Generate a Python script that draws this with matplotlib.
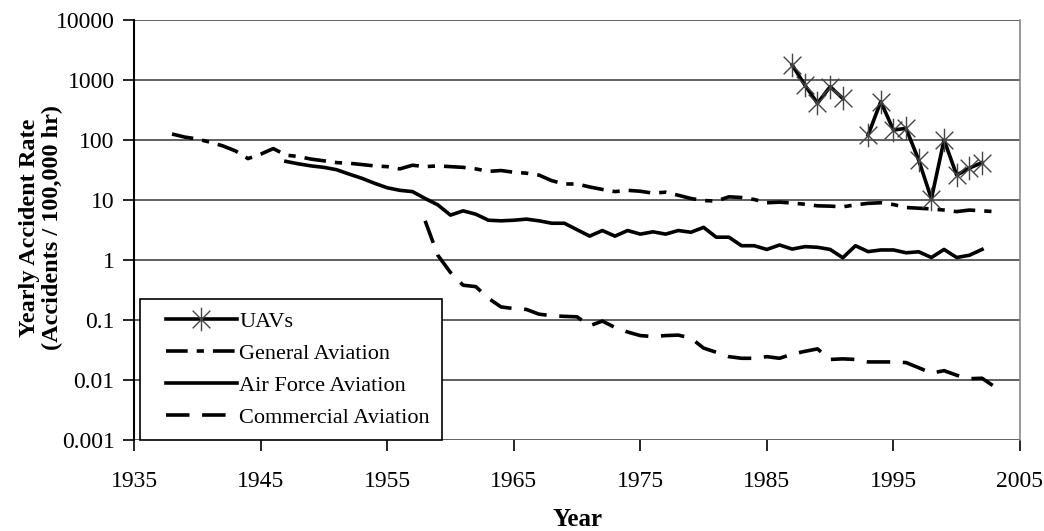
import numpy as np
import matplotlib
matplotlib.use('Agg')
import matplotlib.pyplot as plt
from matplotlib.path import Path
from matplotlib.lines import Line2D
from matplotlib.legend_handler import HandlerLine2D

plt.rcParams['font.family'] = ['Liberation Serif', 'DejaVu Serif']

# UAVs (no value for 1992)
uav_years = [1987, 1988, 1989, 1990, 1991, 1992, 1993, 1994, 1995, 1996,
             1997, 1998, 1999, 2000, 2001, 2002]
uav_rate = [1780, 825, 410, 776, 493, np.nan, 121, 436, 147, 156,
            46, 10.5, 100, 26, 34, 42]

# General Aviation 1938-2003
ga_years = list(range(1938, 2004))
ga_rate = [126, 112, 104, 92, 80, 66, 49, 58, 72, 56,
           53, 48, 45, 42, 41, 39, 37, 36, 33, 38,
           36, 37, 36, 35, 33, 30, 31, 29, 28, 26,
           21, 18.5, 18.5, 16.5, 15, 13.8, 14.5, 14, 13, 13.5,
           12, 10.6, 9.8, 9.6, 11.3, 11, 10.2, 9, 9.2, 8.9,
           8.5, 8, 7.9, 7.7, 8.3, 8.8, 9, 8.4, 7.5, 7.3,
           7.1, 6.8, 6.4, 6.8, 6.6, 6.4]

# Air Force Aviation 1947-2002
af_years = list(range(1947, 2003))
af_rate = [44, 40, 37, 35, 32, 27, 23, 19, 16, 14.5,
           13.8, 10.6, 8.3, 5.6, 6.6, 5.8, 4.6, 4.5, 4.6, 4.8,
           4.5, 4.1, 4.1, 3.2, 2.5, 3.1, 2.5, 3.1, 2.7, 2.95,
           2.7, 3.1, 2.9, 3.5, 2.4, 2.4, 1.73, 1.73, 1.5, 1.78,
           1.52, 1.67, 1.63, 1.5, 1.09, 1.73, 1.38, 1.47, 1.47, 1.32,
           1.37, 1.1, 1.5, 1.1, 1.2, 1.5]

# Commercial Aviation 1958-2003
ca_years = list(range(1958, 2004))
ca_rate = [4.5, 1.2, 0.62, 0.38, 0.36, 0.23, 0.165, 0.155, 0.15, 0.125,
           0.118, 0.115, 0.113, 0.08, 0.096, 0.075, 0.063, 0.055, 0.053, 0.055,
           0.056, 0.05, 0.034, 0.029, 0.0245, 0.023, 0.023, 0.0245, 0.023, 0.027,
           0.03, 0.033, 0.022, 0.0225, 0.022, 0.02, 0.02, 0.02, 0.0195, 0.016,
           0.013, 0.0143, 0.012, 0.0105, 0.0107, 0.0077]

x_ticks = [1935, 1945, 1955, 1965, 1975, 1985, 1995, 2005]
y_ticks = [0.001, 0.01, 0.1, 1, 10, 100, 1000, 10000]
y_labels = ['0.001', '0.01', '0.1', '1', '10', '100', '1000', '10000']

# Excel style asterisk: vertical bar plus an X
star = Path([(0, -1), (0, 1), (-0.75, -0.75), (0.75, 0.75), (-0.75, 0.75), (0.75, -0.75)],
            [Path.MOVETO, Path.LINETO, Path.MOVETO, Path.LINETO, Path.MOVETO, Path.LINETO])

fig = plt.figure(figsize=(10.44, 5.31), dpi=100)
ax = fig.add_axes([0.1284, 0.1714, 0.8486, 0.7909])

lw = 2.6
ax.plot(uav_years, uav_rate, color='black', lw=lw, marker=star, markersize=17,
        markeredgecolor='#444444', markeredgewidth=1.0, label='UAVs', zorder=5)
ax.plot(ga_years, ga_rate, color='black', lw=lw, dashes=(6, 2.5, 2, 2.5),
        label='General Aviation', zorder=4)
ax.plot(af_years, af_rate, color='black', lw=lw, label='Air Force Aviation', zorder=4)
ax.plot(ca_years, ca_rate, color='black', lw=lw, dashes=(6.5, 3.5),
        label='Commercial Aviation', zorder=4)

ax.set_yscale('log')
ax.set_ylim(0.001, 10000)
ax.set_xlim(1935, 2005)
ax.set_yticks(y_ticks)
ax.set_yticklabels(y_labels)
ax.set_xticks(x_ticks)
ax.minorticks_off()
ax.tick_params(axis='both', which='major', labelsize=17, direction='out', length=8,
               width=1.2, colors='black')
ax.tick_params(axis='x', pad=14)
ax.tick_params(axis='y', pad=6)

# horizontal gridlines at each decade
ax.yaxis.grid(True, color='#444444', lw=1.2)
ax.set_axisbelow(True)

for side in ['top', 'bottom']:
    ax.spines[side].set_visible(False)
ax.spines['left'].set_color('black')
ax.spines['left'].set_linewidth(1.5)
ax.spines['right'].set_color('#888888')
ax.spines['right'].set_linewidth(1.2)

ax.set_xlabel('Year', fontsize=18, fontweight='bold', labelpad=12)
ax.set_ylabel('Yearly Accident Rate\n(Accidents / 100,000 hr)', fontsize=17.5,
              fontweight='bold', linespacing=1.15)
ax.yaxis.set_label_coords(-0.080, 0.505)

# legend: handles indented from the frame like the original
leg = ax.legend(loc='upper left', bbox_to_anchor=(0.007, 0.336), fontsize=16,
                handlelength=3.8, handletextpad=0.1, labelspacing=0.52,
                numpoints=1, borderpad=0.55, borderaxespad=0, fancybox=False,
                framealpha=1, edgecolor='black',
                handler_map={Line2D: HandlerLine2D(xpad=0.6)})
leg.get_frame().set_linewidth(1.2)
leg.set_zorder(10)

plt.savefig('out.png', dpi=100)
